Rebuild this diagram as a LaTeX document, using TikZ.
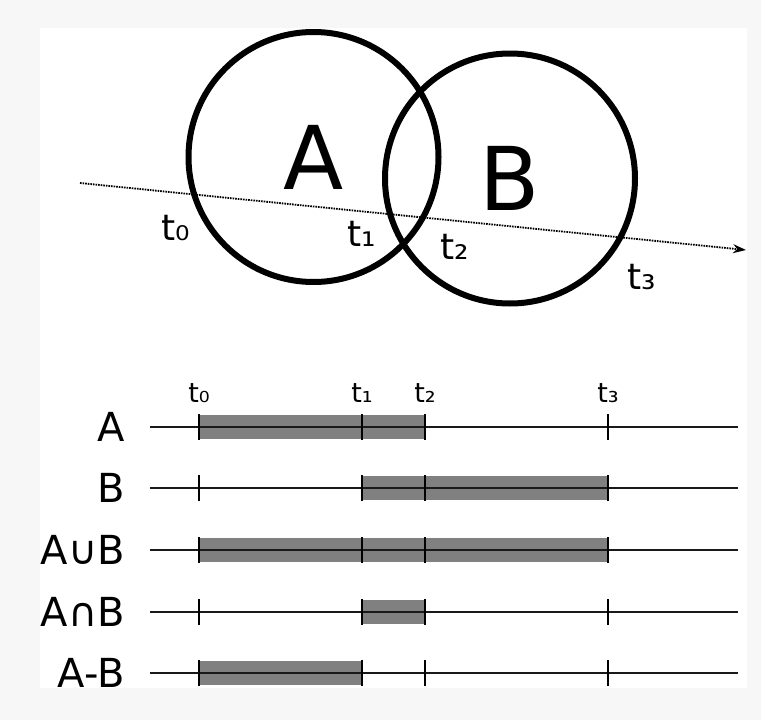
\documentclass[tikz,border=0pt]{standalone}
\usepackage{fontspec}
\setmainfont{DejaVu Sans}
\usetikzlibrary{arrows.meta}
\definecolor{pagegray}{HTML}{F7F7F7}
\definecolor{bargray}{HTML}{808080}

\tikzset{
  ring/.style={circle,draw=black,line width=6pt,minimum size=250pt,inner sep=0pt,
    font=\fontsize{88}{88}\selectfont},
  rowline/.style={draw=black!90,line width=1.8pt},
  tickmark/.style={draw=black,line width=1.8pt},
  bar/.style={fill=bargray},
  cutlabel/.style={font=\fontsize{36}{36}\selectfont},
  timelabel/.style={font=\fontsize{27}{27}\selectfont},
  rowlabel/.style={anchor=east,inner sep=0pt,font=\fontsize{40}{40}\selectfont}
}

\begin{document}
\begin{tikzpicture}[x=1pt,y=-1pt]
  \fill[pagegray] (0,0) rectangle (761,720);
  \fill[white] (40,28) rectangle (747,688);

  % the two sets and the ray through them
  \node[ring] (setA) at (313.5,157) {A};
  \node[ring] (setB) at (510,178.5) {B};
  \coordinate (rayStart) at (80,183);
  \coordinate (rayEnd) at (746,250);
  \draw[line width=1.8pt,dash pattern=on 1.6pt off 1pt,
    -{Stealth[length=13pt,width=9pt]}] (rayStart) -- (rayEnd);
  \node[cutlabel] (cut0) at (176,228) {t₀};
  \node[cutlabel] (cut1) at (362,234) {t₁};
  \node[cutlabel] (cut2) at (455,247) {t₂};
  \node[cutlabel] (cut3) at (642,277) {t₃};

  % time axis labels
  \foreach \i/\x in {0/199,1/362,2/425,3/608}
    \node[timelabel] (time\i) at (\x,393) {t\ifcase\i ₀\or ₁\or ₂\else ₃\fi};

  % one row per set expression
  \foreach \i/\name/\y/\from/\to in {1/A/427/199/425, 2/B/488/362/608,
      3/A∪B/550/199/608, 4/A∩B/612/362/425, 5/A-B/673/199/362} {
    \node[rowlabel] (row\i) at (125,\y) {\name};
    \fill[bar] (\from,\y-12) rectangle (\to,\y+12);
    \draw[rowline] (150,\y) -- (738,\y);
    \foreach \x in {199,362,425,608}
      \draw[tickmark] (\x,\y-13) -- (\x,\y+13);
  }
\end{tikzpicture}
\end{document}
